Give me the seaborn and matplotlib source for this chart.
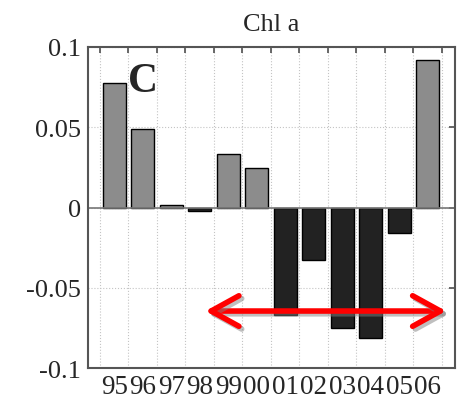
import matplotlib
matplotlib.use("Agg")
import matplotlib.pyplot as plt
import matplotlib.patheffects as pe
import seaborn as sns
import numpy as np
import pandas as pd

# values
years = ["95", "96", "97", "98", "99", "00", "01", "02", "03", "04", "05", "06"]
chl_a = [0.0773, 0.0486, 0.0016, -0.0024, 0.0332, 0.0247,
         -0.0667, -0.0330, -0.0749, -0.0813, -0.0156, 0.0917]
arrow_from = 3.2
arrow_to = 11.65
arrow_level = -0.0645

sns.set_theme(style="white")
plt.rcParams["font.family"] = ["Liberation Serif", "DejaVu Serif"]

df = pd.DataFrame({"year": years, "value": chl_a})
df["sign"] = np.where(df["value"] >= 0, "pos", "neg")

fig = plt.figure(figsize=(4.6, 4.02), dpi=100)
ax = fig.add_axes([88 / 460, 1 - 369 / 402, 367 / 460, 321 / 402])

sns.barplot(data=df, x="year", y="value", hue="sign",
            palette={"pos": "#8c8c8c", "neg": "#222222"},
            dodge=False, width=0.8, edgecolor="black", linewidth=1.0,
            legend=False, ax=ax)

ax.axhline(0, color="#777777", lw=1.2, zorder=1)

ax.set_xlim(-0.92, 11.96)
ax.set_ylim(-0.1, 0.1)
ax.set_yticks([-0.1, -0.05, 0, 0.05, 0.1])
ax.set_yticklabels(["-0.1", "-0.05", "0", "0.05", "0.1"], fontsize=19)

# grid / tick marks sit between bars, labels under bar centres
n = len(years)
ax.set_xticks(np.arange(n + 1) - 0.5)
ax.set_xticklabels([""] * (n + 1))
ax.set_xticks(np.arange(n), minor=True)
ax.set_xticklabels(years, minor=True, fontsize=19.5)
ax.tick_params(axis="x", which="minor", length=0, pad=4)
ax.tick_params(axis="both", which="major", direction="in", length=4,
               color="#555555", top=True, right=True)
ax.tick_params(axis="y", pad=5)
ax.set_axisbelow(True)
ax.grid(True, which="major", linestyle=":", color="#c4c4c4", lw=0.8)
ax.set_xlabel("")
ax.set_ylabel("")
for s in ax.spines.values():
    s.set_color("#555555")
    s.set_linewidth(1.5)

ax.set_title("Chl a", fontsize=19, pad=12)
ax.text(0.108, 0.862, "C", transform=ax.transAxes, fontsize=30,
        fontweight="bold", va="baseline", ha="left")

ax.annotate("", xy=(arrow_to, arrow_level), xytext=(arrow_from, arrow_level),
            arrowprops=dict(arrowstyle="<->,head_length=1.0,head_width=0.55",
                            color="red", lw=4, mutation_scale=20,
                            shrinkA=0, shrinkB=0,
                            path_effects=[pe.SimpleLineShadow(offset=(2, -2), shadow_color="gray", alpha=0.5),
                                          pe.Normal()]),
            annotation_clip=False)

fig.savefig("out.png", dpi=100)
